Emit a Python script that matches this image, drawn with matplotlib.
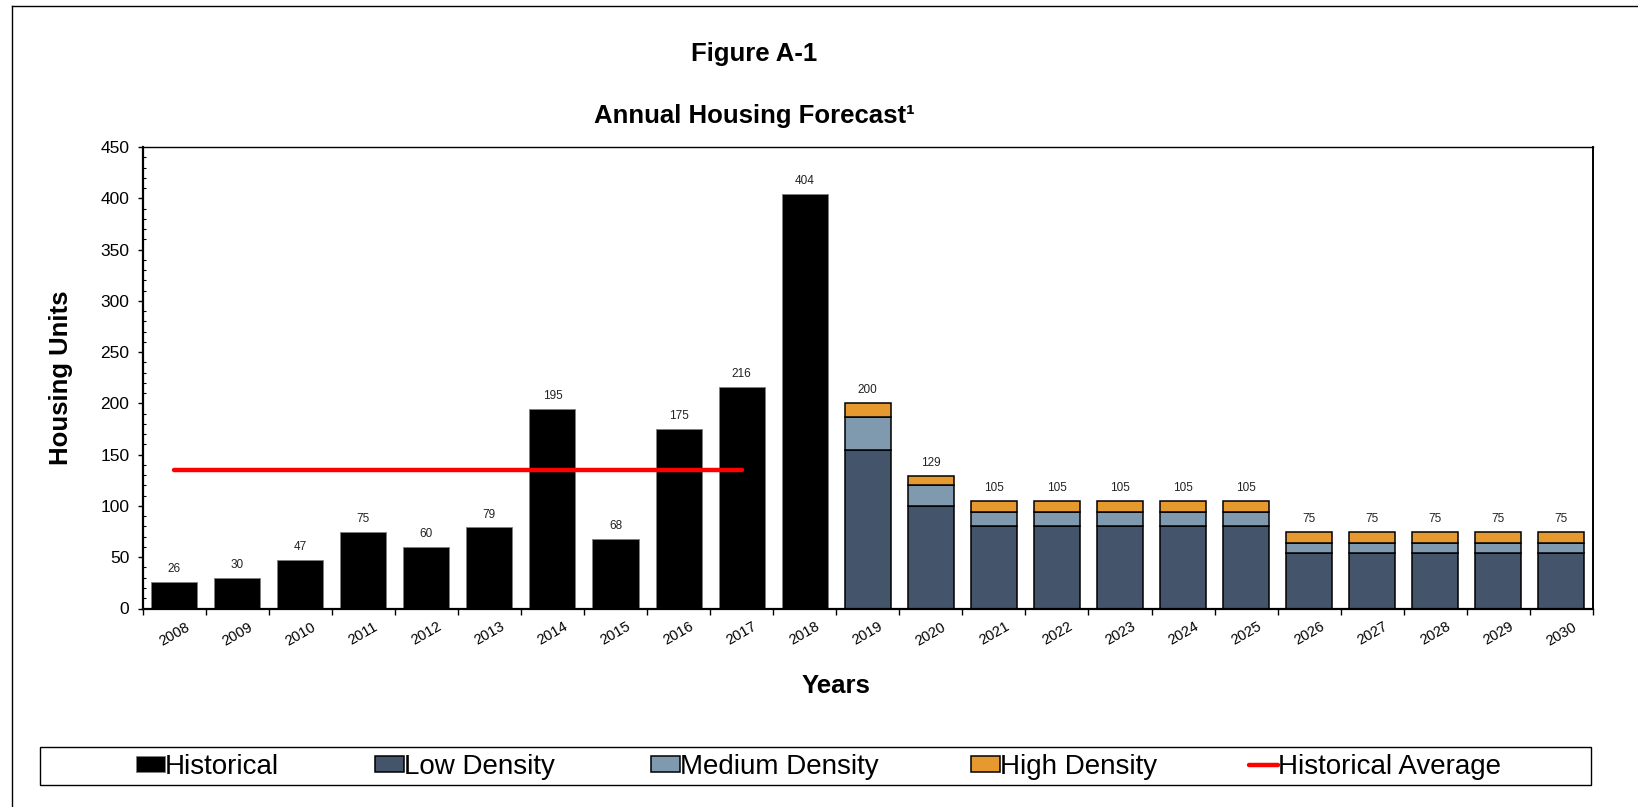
import matplotlib
matplotlib.use("Agg")
import matplotlib.pyplot as plt
from matplotlib.patches import Rectangle
from matplotlib.lines import Line2D

plt.rcParams['font.family'] = ['Liberation Sans', 'DejaVu Sans']

# ---- data -------------------------------------------------------------
years = [str(y) for y in range(2008, 2031)]
hist_years = years[:11]
hist_units = [26, 30, 47, 75, 60, 79, 195, 68, 175, 216, 404]

fc_years = years[11:]
low_density = [155, 100, 80, 80, 80, 80, 80, 54, 54, 54, 54, 54]
medium_density = [32, 20, 14, 14, 14, 14, 14, 10, 10, 10, 10, 10]
high_density = [13, 9, 11, 11, 11, 11, 11, 11, 11, 11, 11, 11]

hist_average = 135
avg_span = years[:10]          # average line drawn across 2008-2017

legend_labels = ["Historical", "Low Density", "Medium Density",
                 "High Density", "Historical Average"]

# ---- styling ----------------------------------------------------------
C_HIST = "#000000"
C_LOW = "#44546A"
C_MED = "#7F9AAE"
C_HIGH = "#E6992E"
C_AVG = "#FF0000"

W, H = 1638, 807
fig = plt.figure(figsize=(W / 100, H / 100), dpi=100)
ax = fig.add_axes([142.5 / W, 1 - 608.5 / H, 1450.5 / W, 461.5 / H])

pos = {y: i for i, y in enumerate(years)}
bw = 0.73

hx = [pos[y] for y in hist_years]
fx = [pos[y] for y in fc_years]

b_hist = ax.bar(hx, hist_units, width=bw, color=C_HIST, edgecolor="#808080",
                linewidth=0.6, zorder=2)
b_low = ax.bar(fx, low_density, width=bw, color=C_LOW, edgecolor="black",
               linewidth=1.1, zorder=2)
mid_base = low_density
b_med = ax.bar(fx, medium_density, width=bw, bottom=mid_base, color=C_MED,
               edgecolor="black", linewidth=1.1, zorder=2)
top_base = [l + m for l, m in zip(low_density, medium_density)]
b_high = ax.bar(fx, high_density, width=bw, bottom=top_base, color=C_HIGH,
                edgecolor="black", linewidth=1.1, zorder=2)

avg_line, = ax.plot([pos[y] for y in avg_span], [hist_average] * len(avg_span),
                    color=C_AVG, linewidth=3.2, solid_capstyle="round", zorder=3)

# value labels above each bar
totals = hist_units + [l + m + h for l, m, h in
                       zip(low_density, medium_density, high_density)]
for x, t in zip(hx + fx, totals):
    ax.annotate(str(t), (x, t), xytext=(0, 5), textcoords="offset points",
                ha="center", va="bottom", fontsize=8.5, color="#222222")

# ---- axes -------------------------------------------------------------
ax.set_xlim(-0.5, len(years) - 0.5)
ax.set_ylim(0, 450)
ax.set_yticks(range(0, 451, 50))
ax.set_yticks(range(0, 451, 10), minor=True)
ax.tick_params(axis="y", which="major", direction="out", length=3.5,
               width=1, labelsize=12.5, pad=6, colors="black")
ax.tick_params(axis="y", which="minor", direction="in", length=2.5, width=0.8)

ax.set_xticks(range(len(years)))
ax.set_xticklabels(years, rotation=30, ha="center", fontsize=10.5)
ax.set_xticks([i - 0.5 for i in range(len(years) + 1)], minor=True)
ax.tick_params(axis="x", which="major", length=0, pad=8)
ax.tick_params(axis="x", which="minor", direction="out", length=4, width=1)

for s in ax.spines.values():
    s.set_color("black")
    s.set_linewidth(1.0)
ax.spines["left"].set_linewidth(1.6)
ax.spines["bottom"].set_linewidth(1.6)
ax.spines["right"].set_linewidth(1.4)

ax.set_ylabel("Housing Units", fontsize=18.5, fontweight="bold")
ax.yaxis.set_label_coords((61 - 142.5) / 1450.5, 0.5)
ax.yaxis.label.set_va("center")
ax.set_xlabel("Years", fontsize=18.5, fontweight="bold")
ax.xaxis.set_label_coords((836 - 142.5) / 1450.5, (608.5 - 686) / 461.5)
ax.xaxis.label.set_va("center")

# ---- titles -----------------------------------------------------------
fig.text(754 / W, 1 - 54 / H, "Figure A-1", ha="center", va="center",
         fontsize=18.5, fontweight="bold")
fig.text(754 / W, 1 - 116 / H, "Annual Housing Forecast\u00b9", ha="center",
         va="center", fontsize=18.5, fontweight="bold")

# ---- legend -----------------------------------------------------------
fig.patches.append(Rectangle((40 / W, 1 - 785 / H), (1591 - 40) / W,
                             (785 - 747) / H, transform=fig.transFigure,
                             facecolor="none", edgecolor="black",
                             linewidth=1.0))
handles = [b_hist, b_low, b_med, b_high, avg_line]
handle_x = [136, 375, 651, 971, 1249]
for h, lab, x in zip(handles, legend_labels, handle_x):
    lg = fig.legend([h], [lab], loc="center left",
                    bbox_to_anchor=(x / W, 1 - 767 / H), frameon=False,
                    fontsize=20, handlelength=1.05, handleheight=0.5,
                    handletextpad=0.0, borderpad=0, borderaxespad=0)

# outer frame of the figure block
fig.add_artist(Line2D([12 / W, 12 / W], [-0.05, 1 - 6 / H],
                      transform=fig.transFigure, color="black", linewidth=1.0))
fig.add_artist(Line2D([12 / W, 1.05], [1 - 6 / H, 1 - 6 / H],
                      transform=fig.transFigure, color="black", linewidth=1.0))

fig.savefig("out.png", dpi=100, facecolor="white")
